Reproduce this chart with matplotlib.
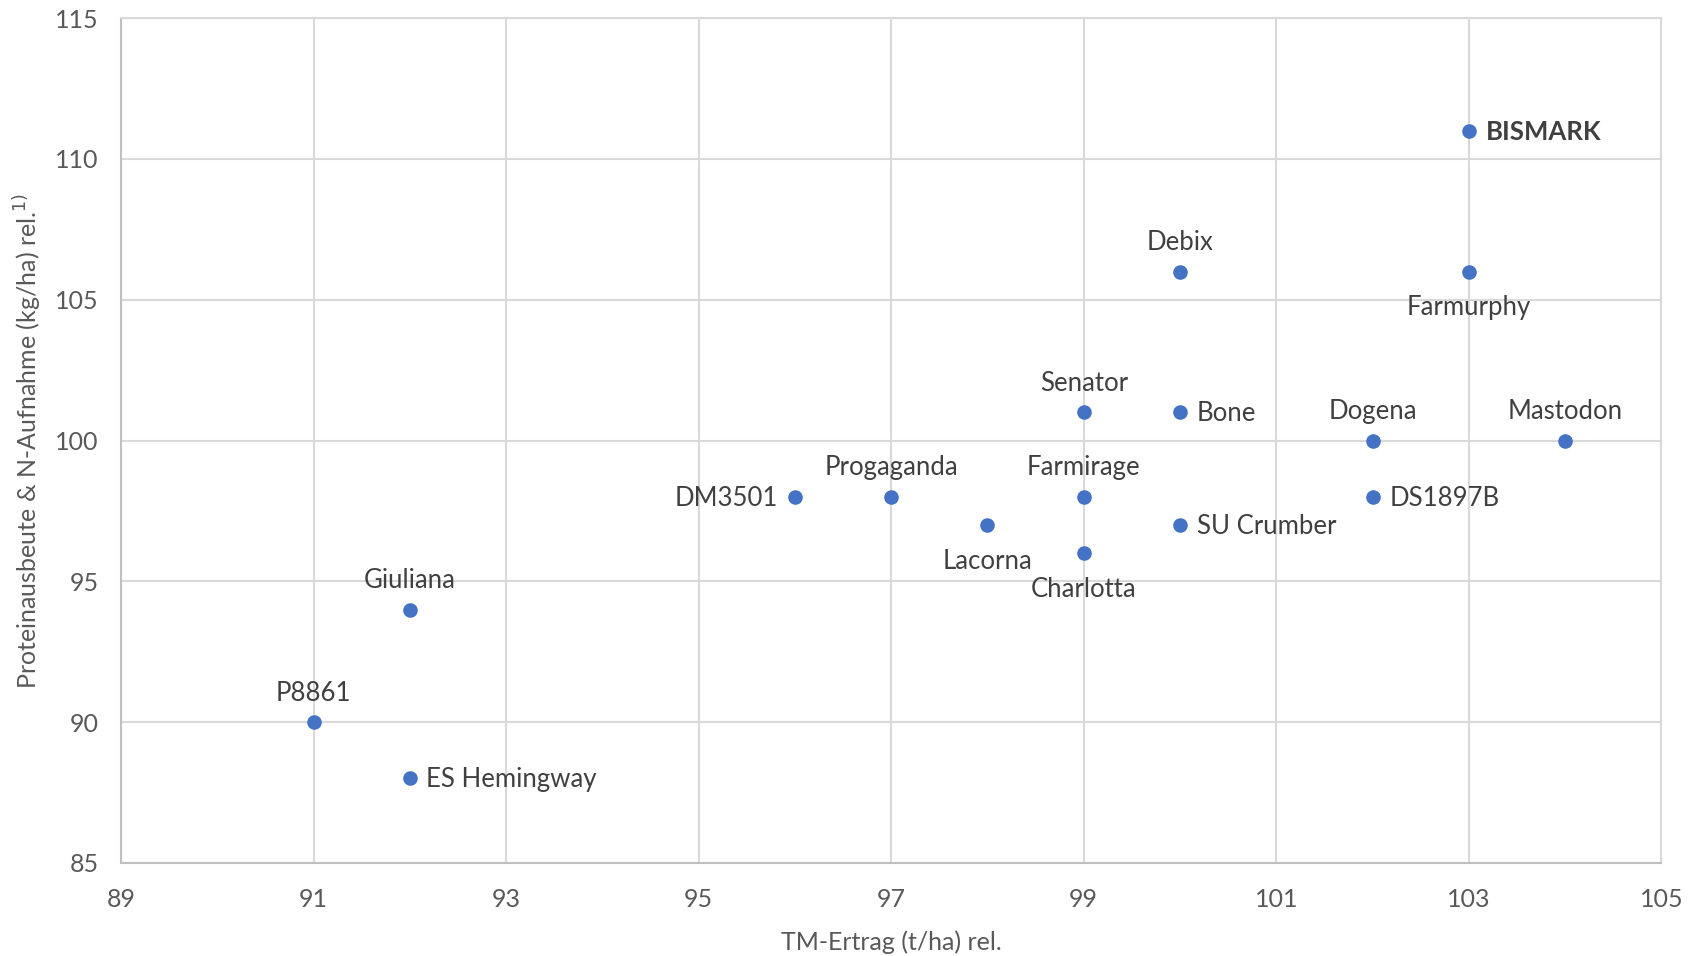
import matplotlib.pyplot as plt

plt.rcParams["font.family"] = ["Lato", "DejaVu Sans"]

names = ["BISMARK", "Debix", "Farmurphy", "Senator", "Bone", "Dogena", "Mastodon",
         "Progaganda", "DM3501", "Farmirage", "DS1897B", "Lacorna", "SU Crumber",
         "Charlotta", "Giuliana", "P8861", "ES Hemingway"]
tm_ertrag = [103, 100, 103, 99, 100, 102, 104, 97, 96, 99, 102, 98, 100, 99, 92, 91, 92]
protein = [111, 106, 106, 101, 101, 100, 100, 98, 98, 98, 98, 97, 97, 96, 94, 90, 88]
label_pos = ["right", "above", "below", "above", "right", "above", "above",
             "above", "left", "above", "right", "below", "right",
             "below", "above", "above", "right"]

x_ticks = list(range(89, 106, 2))
y_ticks = list(range(85, 116, 5))

blue = "#4472C4"
text_col = "#404040"
grid_col = "#D9D9D9"

fig = plt.figure(figsize=(16.97, 9.56), dpi=100)
ax = fig.add_axes([0.0713, 0.0973, 0.9077, 0.8837])

ax.scatter(tm_ertrag, protein, s=90, color=blue, zorder=3)

offsets = {"right": ((12, -1), "left", "center"),
           "left": ((-12, -1), "right", "center"),
           "above": ((0, 12), "center", "bottom"),
           "below": ((0, -17), "center", "top")}
for n, x, y, p in zip(names, tm_ertrag, protein, label_pos):
    off, ha, va = offsets[p]
    ax.annotate(n, (x, y), xytext=off, textcoords="offset points", ha=ha, va=va,
                fontsize=18.5, color=text_col,
                fontweight="bold" if n == "BISMARK" else "normal")

ax.set_xlim(89, 105)
ax.set_ylim(85, 115)
ax.set_xticks(x_ticks)
ax.set_yticks(y_ticks)
ax.grid(True, color=grid_col, linewidth=1.5, zorder=0)
ax.set_axisbelow(True)
for s in ax.spines.values():
    s.set_color(grid_col)
    s.set_linewidth(1.5)
ax.spines["bottom"].set_color("#BFBFBF")
ax.spines["left"].set_color("#BFBFBF")
ax.tick_params(length=0, labelsize=18, colors="#595959")
ax.tick_params(axis="x", pad=18)
ax.tick_params(axis="y", pad=16)

ax.set_xlabel("TM-Ertrag (t/ha) rel.", fontsize=18, color="#595959", labelpad=14)
ax.set_ylabel("Proteinausbeute & N-Aufnahme (kg/ha) rel.$^{1)}$", fontsize=18,
              color="#595959", labelpad=8)

fig.savefig("out.png", dpi=100)
